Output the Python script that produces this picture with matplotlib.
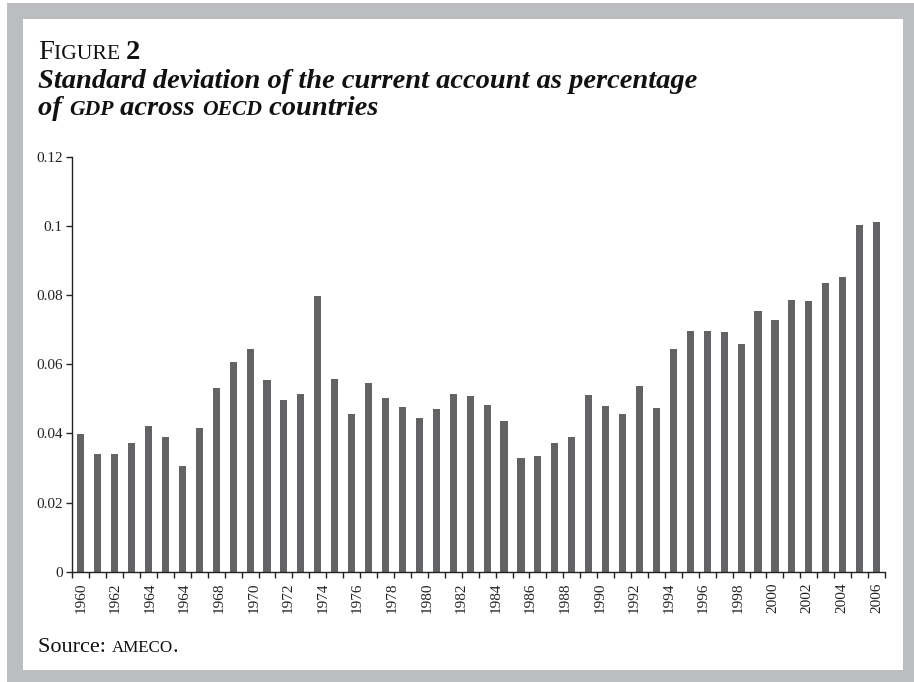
import matplotlib
matplotlib.use("Agg")
import matplotlib.pyplot as plt
from matplotlib.patches import Rectangle
import numpy as np

# ---- data ----
years = list(range(1960, 2008))
values = [0.0398, 0.0340, 0.0342, 0.0371, 0.0423, 0.0391, 0.0305, 0.0416,
          0.0531, 0.0607, 0.0644, 0.0554, 0.0496, 0.0513, 0.0797, 0.0557,
          0.0455, 0.0546, 0.0502, 0.0478, 0.0446, 0.0472, 0.0513, 0.0509,
          0.0483, 0.0435, 0.0328, 0.0334, 0.0372, 0.0390, 0.0511, 0.0479,
          0.0457, 0.0537, 0.0473, 0.0643, 0.0697, 0.0696, 0.0694, 0.0658,
          0.0753, 0.0729, 0.0785, 0.0784, 0.0836, 0.0854, 0.1003, 0.1013]
tick_labels = ["1960", "1962", "1964", "1964", "1968", "1970", "1972", "1974",
               "1976", "1978", "1980", "1982", "1984", "1986", "1988", "1990",
               "1992", "1994", "1996", "1998", "2000", "2002", "2004", "2006"]
y_ticks = [0, 0.02, 0.04, 0.06, 0.08, 0.1, 0.12]
y_tick_labels = ["0", "0.02", "0.04", "0.06", "0.08", "0.1", "0.12"]

W, H = 914, 682
fig = plt.figure(figsize=(W / 100, H / 100), dpi=100)
fig.patch.set_facecolor("white")

GRAY = "#bcbdc1"
BAR = "#636365"
INK = "#222222"

def px(x0, y0, x1, y1):
    # pixel box (top-left origin) -> figure fraction rect
    return (x0 / W, 1 - y1 / H, (x1 - x0) / W, (y1 - y0) / H)

r = px(7, 3, 914, 682)
fig.patches.append(Rectangle((r[0], r[1]), r[2], r[3], transform=fig.transFigure,
                             facecolor=GRAY, edgecolor="none", zorder=-2))
r = px(23, 19, 903, 670)
fig.patches.append(Rectangle((r[0], r[1]), r[2], r[3], transform=fig.transFigure,
                             facecolor="white", edgecolor="none", zorder=-1))

# ---- axes ----
ax = fig.add_axes(px(72.3, 157, 885, 571.7))
ax.set_zorder(1)
ax.set_facecolor("none")
x = np.arange(len(values))
ax.bar(x, values, width=0.42, color=BAR, zorder=2)
ax.set_xlim(-0.5, len(values) - 0.5)
ax.set_ylim(0, 0.12)

for s in ["top", "right"]:
    ax.spines[s].set_visible(False)
for s in ["left", "bottom"]:
    ax.spines[s].set_linewidth(1.0)
    ax.spines[s].set_color(INK)

ax.set_yticks(y_ticks)
ax.set_yticklabels(y_tick_labels, family="Liberation Serif", fontsize=11, color=INK)
ax.tick_params(axis="y", direction="out", length=4, width=1, color=INK, pad=3)

# label positions spread evenly from first to last bar
label_pos = np.linspace(0, len(values) - 1, len(tick_labels))
ax.set_xticks(label_pos)
ax.set_xticklabels(tick_labels, rotation=90, family="Liberation Serif", fontsize=11,
                   color=INK, va="top", ha="center")
ax.tick_params(axis="x", which="major", length=0, pad=8)
ax.set_xticks(np.arange(-0.5, len(values), 1.0), minor=True)
ax.tick_params(axis="x", which="minor", direction="out", length=4, width=1, color=INK)

# ---- rich text helper ----
fig.canvas.draw()
renderer = fig.canvas.get_renderer()

def rich(x_px, base_px, parts):
    xp = x_px
    for txt, kw in parts:
        t = fig.text(xp / W, 1 - base_px / H, txt, va="baseline", ha="left", **kw)
        bb = t.get_window_extent(renderer=renderer)
        xp += bb.width

TFONT = "Liberation Serif"
# fit title line width to ~659 px
probe = fig.text(0, 0, "Standard deviation of the current account as percentage",
                 family=TFONT, style="italic", weight="bold", fontsize=20)
w = probe.get_window_extent(renderer=renderer).width
probe.remove()
tsize = 20 * 659 / w
sc = 0.76

rich(38, 59, [("F", dict(family=TFONT, fontsize=tsize, color="#111111")),
              ("IGURE ", dict(family=TFONT, fontsize=tsize * sc, color="#111111")),
              ("2", dict(family=TFONT, fontsize=tsize, weight="bold", color="#111111"))])
ital = dict(family=TFONT, fontsize=tsize, style="italic", weight="bold", color="#111111")
ital_sc = dict(family=TFONT, fontsize=tsize * sc, style="italic", weight="bold", color="#111111")
rich(38, 88, [("Standard deviation of the current account as percentage", ital)])
rich(38, 115, [("of ", ital), ("GDP", ital_sc), (" across ", ital), ("OECD", ital_sc),
               (" countries", ital)])

ssize = tsize * 0.78
rich(38, 652, [("Source: ", dict(family=TFONT, fontsize=ssize, color="#111111")),
               ("AMECO", dict(family=TFONT, fontsize=ssize * sc, color="#111111")),
               (".", dict(family=TFONT, fontsize=ssize, color="#111111"))])

fig.savefig("out.png", dpi=100)
